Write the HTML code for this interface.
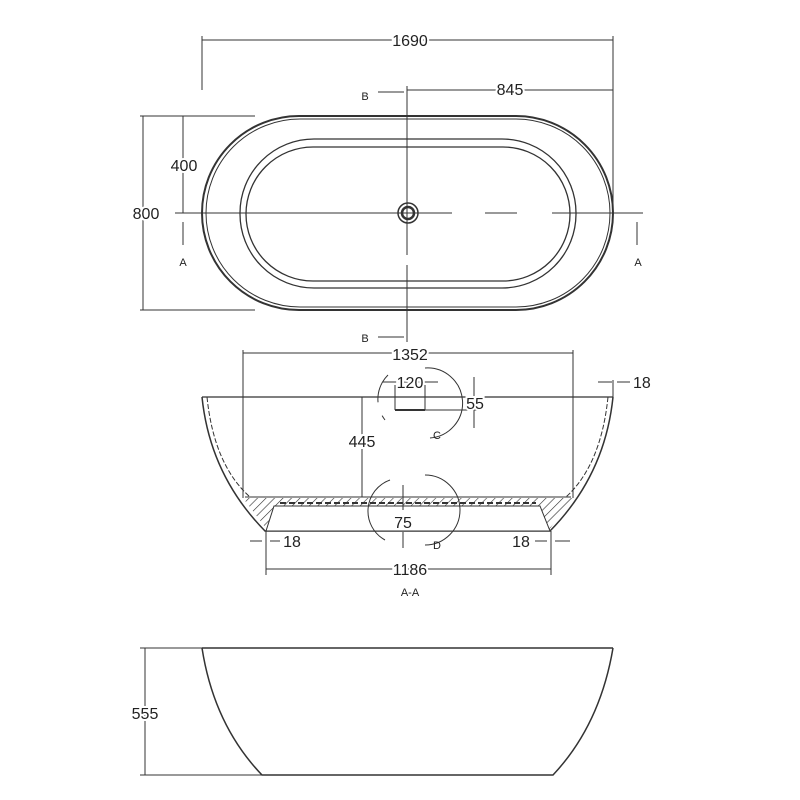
<!DOCTYPE html>
<html><head><meta charset="utf-8"><style>
body{margin:0;background:#fff}
svg{display:block}
text{font-family:"Liberation Sans",sans-serif;fill:#222}
</style></head><body>
<svg width="800" height="800" viewBox="0 0 800 800" xmlns="http://www.w3.org/2000/svg">
<defs>
<pattern id="h" width="6" height="6" patternUnits="userSpaceOnUse" patternTransform="rotate(45)">
<line x1="0" y1="0" x2="0" y2="6" stroke="#333" stroke-width="1.2"/></pattern>
</defs>
<g stroke="#333" fill="none" stroke-width="1">
<line x1="202" y1="40" x2="613" y2="40"/>
<line x1="202" y1="36" x2="202" y2="90"/>
<line x1="613" y1="36" x2="613" y2="213"/>
<line x1="407" y1="90" x2="613" y2="90"/>
<line x1="378" y1="92" x2="404" y2="92"/>
<line x1="378" y1="337" x2="404" y2="337"/>
<line x1="407" y1="86" x2="407" y2="255"/>
<line x1="407" y1="265" x2="407" y2="342"/>
<line x1="175" y1="213" x2="452" y2="213"/>
<line x1="485" y1="213" x2="517" y2="213"/>
<line x1="552" y1="213" x2="643" y2="213"/>
<line x1="143" y1="116" x2="143" y2="310"/>
<line x1="183" y1="116" x2="183" y2="213"/>
<line x1="140" y1="116" x2="255" y2="116"/>
<line x1="140" y1="310" x2="255" y2="310"/>
<line x1="183" y1="222" x2="183" y2="245"/>
<line x1="637" y1="222" x2="637" y2="245"/>
<rect x="202" y="116" width="411" height="194" rx="97" stroke-width="2"/>
<rect x="206" y="119" width="404" height="188" rx="94" stroke-width="1"/>
<rect x="240" y="139" width="336" height="149" rx="74" stroke-width="1.3"/>
<rect x="246" y="147" width="324" height="134" rx="67" stroke-width="1.3"/>
<circle cx="408" cy="213" r="10" stroke-width="1.5"/>
<circle cx="408" cy="213" r="6" stroke-width="2.5"/>
<line x1="243" y1="353" x2="573" y2="353"/>
<line x1="243" y1="350" x2="243" y2="498"/>
<line x1="573" y1="350" x2="573" y2="498"/>
<line x1="202" y1="397" x2="613" y2="397" stroke-width="1.3"/>
<path d="M202 397 Q210 475 265 531 L550 531 Q605 475 613 397" stroke-width="1.5"/>
<path d="M207 397 Q214 465 250 497" stroke-dasharray="5 2"/>
<path d="M608 397 Q601 465 566 497" stroke-dasharray="5 2"/>
<path d="M243 498 L573 498 L548 531 L268 531 Z" fill="url(#h)" stroke="none"/>
<path d="M245 497 L571 497"/>
<path d="M274 506 L540 506 L550 531 L266 531 Z" fill="#fff" stroke="#333"/>
<line x1="280" y1="503" x2="536" y2="503" stroke-dasharray="6 3" stroke-width="2"/>
<line x1="362" y1="397" x2="362" y2="497"/>
<line x1="395" y1="385" x2="395" y2="410"/><line x1="395" y1="410" x2="425" y2="410" stroke-width="2"/><line x1="425" y1="385" x2="425" y2="410"/>
<line x1="383" y1="382" x2="438" y2="382"/>
<line x1="425" y1="410" x2="478" y2="410"/>
<line x1="474" y1="377" x2="474" y2="428"/>
<line x1="598" y1="382" x2="612" y2="382"/><line x1="617" y1="382" x2="630" y2="382"/>
<line x1="613" y1="380" x2="613" y2="397"/>
<line x1="266" y1="531" x2="266" y2="575"/><line x1="551" y1="531" x2="551" y2="575"/>
<line x1="266" y1="569" x2="551" y2="569"/>
<line x1="250" y1="541" x2="262" y2="541"/><line x1="270" y1="541" x2="280" y2="541"/>
<line x1="535" y1="541" x2="547" y2="541"/><line x1="555" y1="541" x2="570" y2="541"/>
<line x1="403" y1="485" x2="403" y2="510"/><line x1="403" y1="532" x2="403" y2="548"/>
<path d="M388 375 A34 34 0 0 0 385 420" stroke-dasharray="30 14"/>
<path d="M425 368 A34 34 0 0 1 430 438" />
<path d="M390 480 A33 33 0 0 0 385 540" />
<path d="M425 475 A33 33 0 0 1 425 545" />
<line x1="202" y1="648" x2="613" y2="648" stroke-width="1.5"/>
<path d="M202 648 Q214 725 262 775 L553 775 Q600 725 613 648" stroke-width="1.5"/>
<line x1="145" y1="648" x2="145" y2="775"/>
<line x1="140" y1="648" x2="202" y2="648"/>
<line x1="140" y1="775" x2="262" y2="775"/>
</g>
<g font-size="16">
<text x="410" y="46" text-anchor="middle" stroke="#fff" stroke-width="4" style="paint-order:stroke">1690</text>
<text x="510" y="95" text-anchor="middle" stroke="#fff" stroke-width="4" style="paint-order:stroke">845</text>
<text x="146" y="219" text-anchor="middle" stroke="#fff" stroke-width="4" style="paint-order:stroke">800</text>
<text x="184" y="171" text-anchor="middle" stroke="#fff" stroke-width="4" style="paint-order:stroke">400</text>
<text x="410" y="360" text-anchor="middle" stroke="#fff" stroke-width="4" style="paint-order:stroke">1352</text>
<text x="410" y="388" text-anchor="middle" stroke="#fff" stroke-width="4" style="paint-order:stroke">120</text>
<text x="475" y="409" text-anchor="middle" stroke="#fff" stroke-width="4" style="paint-order:stroke">55</text>
<text x="362" y="447" text-anchor="middle" stroke="#fff" stroke-width="4" style="paint-order:stroke">445</text>
<text x="403" y="528" text-anchor="middle">75</text>
<text x="633" y="388">18</text>
<text x="292" y="547" text-anchor="middle">18</text>
<text x="521" y="547" text-anchor="middle">18</text>
<text x="410" y="575" text-anchor="middle" stroke="#fff" stroke-width="4" style="paint-order:stroke">1186</text>
<text x="145" y="719" text-anchor="middle" stroke="#fff" stroke-width="4" style="paint-order:stroke">555</text>
</g>
<g font-size="11">
<text x="365" y="100" text-anchor="middle">B</text>
<text x="365" y="342" text-anchor="middle">B</text>
<text x="183" y="266" text-anchor="middle">A</text>
<text x="638" y="266" text-anchor="middle">A</text>
<text x="437" y="439" text-anchor="middle">C</text>
<text x="437" y="549" text-anchor="middle">D</text>
<text x="410" y="596" text-anchor="middle">A-A</text>
</g>
</svg>
</body></html>
